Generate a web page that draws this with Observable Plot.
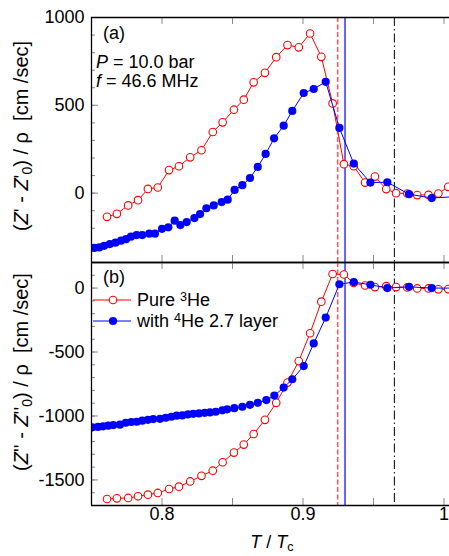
<!DOCTYPE html>
<html><head><meta charset="utf-8">
<script src="https://cdn.jsdelivr.net/npm/d3@7"></script>
<script src="https://cdn.jsdelivr.net/npm/@observablehq/plot@0.6"></script>
<style>
body{margin:0;background:#fff;}
#wrap{position:relative;width:449px;height:556px;overflow:hidden;font-family:"Liberation Sans",Arial,Helvetica,sans-serif;}
#wrap svg{position:absolute;left:0;}
</style></head><body><div id="wrap"></div>
<script>
// ---- data ----
const redT = [0.761,0.768,0.776,0.783,0.790,0.797,0.805,0.812,0.820,0.828,0.836,0.843,0.851,0.858,0.865,0.873,0.881,0.889,0.897,0.905,0.913,0.921,0.929,0.936,0.944,0.951,0.959,0.966,0.974,0.981,0.989,0.996,1.003];
const redZre = [-135,-118,-70,-40,24,32,131,153,204,244,348,403,475,532,631,685,774,843,830,909,776,511,165,153,60,94,23,0,-2,-11,-10,-2,36];
const redZim = [-1649,-1644,-1641,-1628,-1615,-1602,-1571,-1553,-1512,-1468,-1428,-1362,-1286,-1224,-1141,-1030,-897,-739,-571,-353,-106,110,106,40,20,8,15,8,5,-3,-3,-10,-8];
const blueTre = [0.752,0.7555,0.759,0.763,0.767,0.771,0.7745,0.778,0.782,0.786,0.791,0.795,0.800,0.8045,0.809,0.813,0.8175,0.823,0.827,0.8315,0.8367,0.8423,0.8466,0.8515,0.857,0.8624,0.8679,0.8735,0.8795,0.8863,0.8924,0.9005,0.9076,0.9161,0.9258,0.936,0.9478,0.9598,0.9752,0.9913,1.008];
const blueZre = [-312,-309,-300,-290,-282,-271,-262,-248,-239,-239,-231,-231,-203,-195,-157,-182,-165,-142,-119,-86,-70,-51,-37,18,45,86,149,223,312,384,468,570,593,634,371,168,60,62,-6,-28,-20];
const blueTim = [0.7506,0.7546,0.7582,0.7619,0.7655,0.7702,0.7743,0.7782,0.7821,0.786,0.790,0.7938,0.7986,0.8026,0.8066,0.8104,0.8144,0.8184,0.8222,0.8262,0.8303,0.834,0.8381,0.8428,0.8462,0.8513,0.857,0.8624,0.8679,0.874,0.8797,0.8863,0.8924,0.9005,0.9076,0.9161,0.9258,0.936,0.9478,0.9598,0.9752,0.9913,1.008];
const blueZim = [-1089,-1086,-1081,-1076,-1071,-1068,-1053,-1047,-1045,-1037,-1030,-1024,-1022,-1014,-1006,-998,-996,-988,-983,-980,-975,-972,-967,-956,-948,-939,-928,-913,-897,-876,-840,-778,-713,-610,-433,-231,30,47,26,0,10,0,0];
const tcRed = 0.9246, tcBlue = 0.9298, tcBlack = 0.9648;
const xMajor = [0.8, 0.9, 1.0];
const xTicks = [0.8, 0.85, 0.9, 0.95, 1.0];
const yMajorA = [0, 500, 1000];
const yMinorA = d3.range(-300, 1001, 100);
const yMajorB = [0, -500, -1000, -1500];
const yMinorB = d3.range(-1600, 201, 100);
const xDomain = [0.75, 1.0039];
const domA = [-395, 1000], domB = [-1700, 200];

const FONT = '"Liberation Sans", Arial, Helvetica, sans-serif';
const W = 449, ML = 91, FW = W - ML;
const RED = "#ff0000", BLUE = "#0000ff", TICK = "#8a8a8a";

function panel(h, mt, mb, dom, yMaj, yMin, data) {
  const FH = h - mt - mb;
  return Plot.plot({
    width: W, height: h, marginLeft: ML, marginRight: 0, marginTop: mt, marginBottom: mb,
    style: {fontFamily: FONT, fontSize: "18px", overflow: "visible", background: "transparent"},
    x: {domain: xDomain, axis: null},
    y: {domain: dom, axis: null},
    marks: [
      Plot.tickX(xTicks, {x: d => d, insetBottom: FH - 7, stroke: TICK}),
      Plot.tickX(xTicks, {x: d => d, insetTop: FH - 7, stroke: TICK}),
      Plot.tickY(yMin, {y: d => d, insetRight: FW - 4, stroke: TICK}),
      Plot.tickY(yMaj, {y: d => d, insetRight: FW - 7, stroke: TICK}),
      Plot.ruleX([tcRed], {stroke: "#ff5a5a", strokeWidth: 1.6, strokeDasharray: "5,2.5"}),
      Plot.ruleX([tcBlue], {stroke: BLUE, strokeWidth: 1.2}),
      Plot.ruleX([tcBlack], {stroke: "#000", strokeWidth: 1, strokeDasharray: "9,3,1.5,3"}),
      Plot.line(data.rz, {x: redT, y: data.rz, stroke: RED, strokeWidth: 1, clip: true}),
      Plot.dot(data.rz, {x: redT, y: data.rz, r: 3.8, stroke: RED, fill: "white", strokeWidth: 1.1, clip: true}),
      Plot.line(data.bz, {x: data.bt, y: data.bz, stroke: BLUE, strokeWidth: 1, clip: true}),
      Plot.dot(data.bz, {x: data.bt, y: data.bz, r: 4.1, fill: BLUE, stroke: "none", clip: true}),
      Plot.ruleY([dom[1]], {stroke: "#000", strokeWidth: 1.3}),
      Plot.ruleY([dom[0]], {stroke: "#000", strokeWidth: 1.3}),
      Plot.ruleX([xDomain[0]], {stroke: "#000", strokeWidth: 1.3}),
      Plot.text(yMaj, {y: d => d, text: d => String(d), frameAnchor: "left", dx: -7, textAnchor: "end", fontSize: 18, fill: "#000"})
    ].concat(data.xlabels ? [
      Plot.text(xMajor, {x: d => d, text: d => d === 1 ? "1" : d.toFixed(1), frameAnchor: "bottom", dy: 14, fontSize: 18, fill: "#000"})
    ] : [])
  });
}

const wrap = document.getElementById("wrap");
const svgA = panel(262, 17, 0, domA, yMajorA, yMinorA, {rz: redZre, bt: blueTre, bz: blueZre});
svgA.style.top = "0px";
const svgB = panel(294, 0, 51, domB, yMajorB, yMinorB, {rz: redZim, bt: blueTim, bz: blueZim, xlabels: true});
svgB.style.top = "262px";
wrap.appendChild(svgA);
wrap.appendChild(svgB);

function rich(svg, x, y, parts, opts = {}) {
  const t = d3.select(svg).append("text")
    .attr("x", x).attr("y", y)
    .attr("font-family", FONT).attr("font-size", opts.size || 18).attr("fill", "#000")
    .attr("text-anchor", opts.anchor || "start");
  if (opts.rotate) t.attr("transform", `rotate(-90 ${x} ${y})`);
  for (const p of parts) {
    const s = t.append("tspan").text(p.t);
    if (p.i) s.attr("font-style", "italic");
    if (p.sub) s.attr("baseline-shift", "-25%").attr("font-size", "70%");
    if (p.sup) s.attr("baseline-shift", "40%").attr("font-size", "70%");
  }
  return t;
}

// panel (a) annotations
rich(svgA, 103, 39, [{t: "(a)"}]);
rich(svgA, 96, 68, [{t: "P", i: true}, {t: " = 10.0 bar"}]);
rich(svgA, 96, 87, [{t: "f", i: true}, {t: " = 46.6 MHz"}]);
rich(svgA, 28, 136, [{t: "("}, {t: "Z", i: true}, {t: "' - "}, {t: "Z", i: true}, {t: "'"}, {t: "0", sub: true}, {t: ") / ρ  [cm /sec]"}], {rotate: true, anchor: "middle", size: 20});

// panel (b)
rich(svgB, 103, 21, [{t: "(b)"}]);
rich(svgB, 28, 110, [{t: "("}, {t: "Z", i: true}, {t: "'' - "}, {t: "Z", i: true}, {t: "''"}, {t: "0", sub: true}, {t: ") / ρ  [cm /sec]"}], {rotate: true, anchor: "middle", size: 20});
rich(svgB, 272, 286, [{t: "T", i: true}, {t: " / "}, {t: "T", i: true}, {t: "c", sub: true}], {anchor: "middle"});

// legend
const lg = d3.select(svgB).append("g");
[[38, RED, true, [{t: "Pure "}, {t: "3", sup: true}, {t: "He"}]],
 [59, BLUE, false, [{t: "with "}, {t: "4", sup: true}, {t: "He 2.7 layer"}]]].forEach(([y, c, open, parts]) => {
  lg.append("line").attr("x1", 93).attr("x2", 131).attr("y1", y).attr("y2", y).attr("stroke", c).attr("stroke-width", 1);
  lg.append("circle").attr("cx", 113).attr("cy", y).attr("r", open ? 3.8 : 4.1)
    .attr("fill", open ? "white" : c).attr("stroke", open ? c : "none").attr("stroke-width", 1.1);
  rich(svgB, 137, y + 6, parts);
});
</script></body></html>
